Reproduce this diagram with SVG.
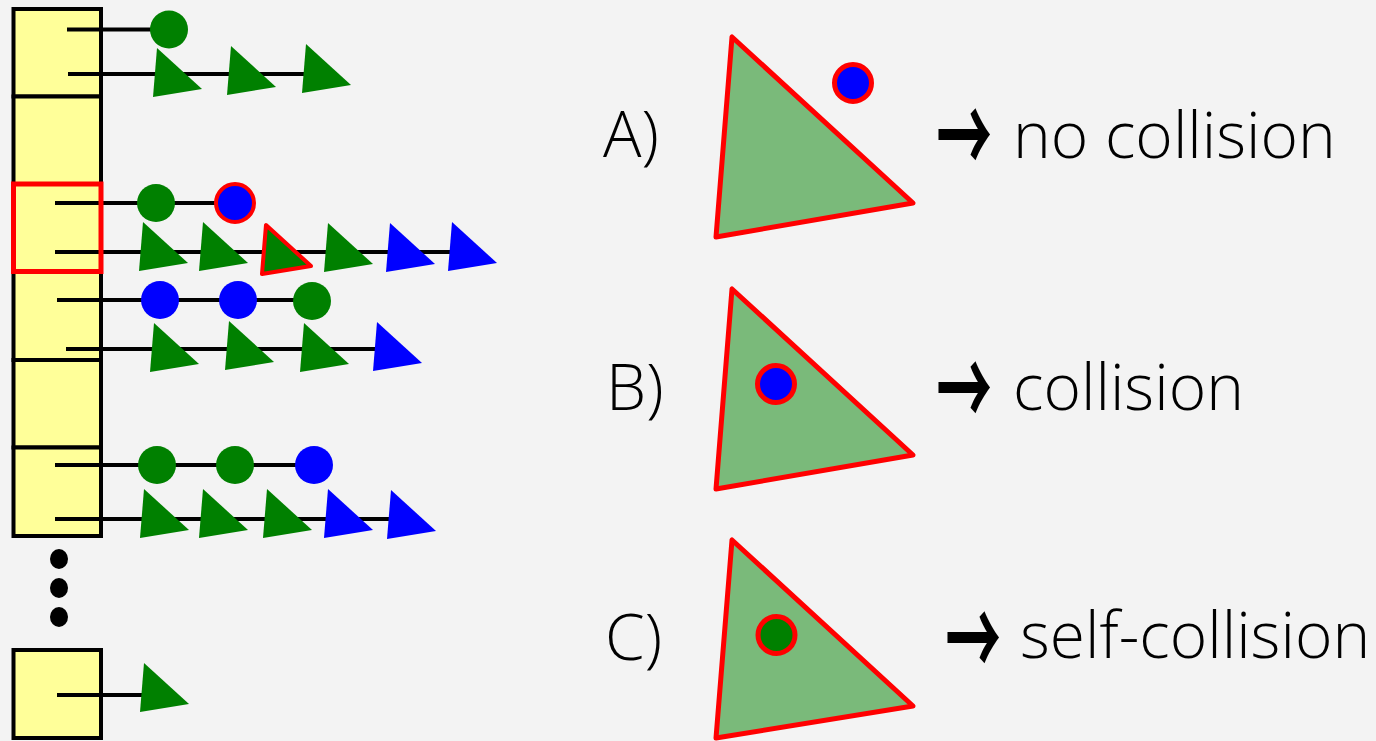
<svg xmlns="http://www.w3.org/2000/svg" xmlns:xlink="http://www.w3.org/1999/xlink" width="1376" height="741" viewBox="0 0 1376 741">
<style>
.cell{fill:#ffff99;stroke:#000;stroke-width:4}
.sel{fill:none;stroke:#ff0000;stroke-width:5}
.ln{stroke:#000;stroke-width:4;fill:none}
.g{fill:#008000}
.b{fill:#0000ff}
.hit{stroke:#ff0000;stroke-width:4;stroke-linejoin:round}
.big{fill:#7aba7a;stroke:#ff0000;stroke-width:5;stroke-linejoin:round}
.lbl{font-family:"Open Sans","Liberation Sans",sans-serif;font-weight:300;font-size:64px;fill:#000}
.arr{font-family:"Noto Sans CJK SC",sans-serif;font-weight:bold;font-size:62px;fill:#000}
</style>
<defs>
<path id="tri" d="M0,0 L-4,49 L45,41 Z"/>
</defs>
<rect width="1376" height="741" fill="#f3f3f3"/>
<g id="table">
<g id="cell0"><rect class="cell" x="13.5" y="9" width="87.5" height="87.5"/></g>
<g id="cell1"><rect class="cell" x="13.5" y="96.5" width="87.5" height="87.5"/></g>
<g id="cell2"><rect class="cell" x="13.5" y="184" width="87.5" height="88"/></g>
<g id="cell3"><rect class="cell" x="13.5" y="272" width="87.5" height="88"/></g>
<g id="cell4"><rect class="cell" x="13.5" y="360" width="87.5" height="87.5"/></g>
<g id="cell5"><rect class="cell" x="13.5" y="447.5" width="87.5" height="88.5"/></g>
<g id="cellN"><rect class="cell" x="13.5" y="650" width="87.5" height="88"/></g>
<g id="dots"><ellipse cx="59" cy="559" rx="9" ry="10"/><ellipse cx="59" cy="588" rx="9" ry="10"/><ellipse cx="59" cy="617" rx="9" ry="10"/></g>
</g>
<g id="connectors">
<line class="ln" x1="67" y1="29.5" x2="169" y2="29.5"/>
<line class="ln" x1="68" y1="74" x2="320" y2="74"/>
<line class="ln" x1="55" y1="203" x2="235" y2="203"/>
<line class="ln" x1="55" y1="252" x2="470" y2="252"/>
<line class="ln" x1="57" y1="300" x2="312" y2="300"/>
<line class="ln" x1="66" y1="349" x2="390" y2="349"/>
<line class="ln" x1="55" y1="465" x2="314" y2="465"/>
<line class="ln" x1="55" y1="519" x2="400" y2="519"/>
<line class="ln" x1="57" y1="695" x2="150" y2="695"/>
</g>
<g id="selected"><rect class="sel" x="13.5" y="184" width="87.5" height="87.5"/></g>
<g id="row0">
<circle class="g" cx="169" cy="29.5" r="19"/>
<use href="#tri" class="g" x="157" y="48"/>
<use href="#tri" class="g" x="231" y="46"/>
<use href="#tri" class="g" x="306" y="44"/>
</g>
<g id="row2">
<circle class="g" cx="156" cy="203" r="19"/>
<circle class="b hit" cx="235" cy="203" r="19"/>
<use href="#tri" class="g" x="143" y="222"/>
<use href="#tri" class="g" x="203" y="222"/>
<use href="#tri" class="g hit" x="266" y="225"/>
<use href="#tri" class="g" x="328" y="223"/>
<use href="#tri" class="b" x="390" y="223"/>
<use href="#tri" class="b" x="452" y="222"/>
</g>
<g id="row3">
<circle class="b" cx="160" cy="300" r="19"/>
<circle class="b" cx="238" cy="300" r="19"/>
<circle class="g" cx="312" cy="301" r="19"/>
<use href="#tri" class="g" x="154" y="323"/>
<use href="#tri" class="g" x="229" y="321"/>
<use href="#tri" class="g" x="304" y="323"/>
<use href="#tri" class="b" x="377" y="322"/>
</g>
<g id="row5">
<circle class="g" cx="157" cy="465" r="19"/>
<circle class="g" cx="235" cy="465" r="19"/>
<circle class="b" cx="314" cy="465" r="19"/>
<use href="#tri" class="g" x="144" y="489"/>
<use href="#tri" class="g" x="203" y="489"/>
<use href="#tri" class="g" x="267" y="489"/>
<use href="#tri" class="b" x="328" y="489"/>
<use href="#tri" class="b" x="391" y="490"/>
</g>
<g id="rowN">
<use href="#tri" class="g" x="144" y="663"/>
</g>
<g id="caseA">
<text class="lbl" x="603" y="157">A)</text>
<polygon class="big" points="732,37 716,237 913,203"/>
<circle class="b hit" cx="853" cy="83" r="18.5" style="stroke-width:5"/>
<text class="arr" x="-2" y="24" transform="translate(938,133) scale(0.9,1.75)">→</text>
<text class="lbl" x="1013" y="158">no collision</text>
</g>
<g id="caseB">
<text class="lbl" x="606" y="410">B)</text>
<polygon class="big" points="732,289 716,489 913,455"/>
<circle class="b hit" cx="776" cy="384" r="18.5" style="stroke-width:5"/>
<text class="arr" x="-2" y="24" transform="translate(938,386) scale(0.9,1.75)">→</text>
<text class="lbl" x="1013" y="410">collision</text>
</g>
<g id="caseC">
<text class="lbl" x="605" y="660">C)</text>
<polygon class="big" points="732,540 716,738 913,706"/>
<circle class="g hit" cx="776.5" cy="635" r="18.5" style="stroke-width:5"/>
<text class="arr" x="-2" y="24" transform="translate(947,636) scale(0.9,1.75)">→</text>
<text class="lbl" x="1020" y="658">self-collision</text>
</g>
</svg>
